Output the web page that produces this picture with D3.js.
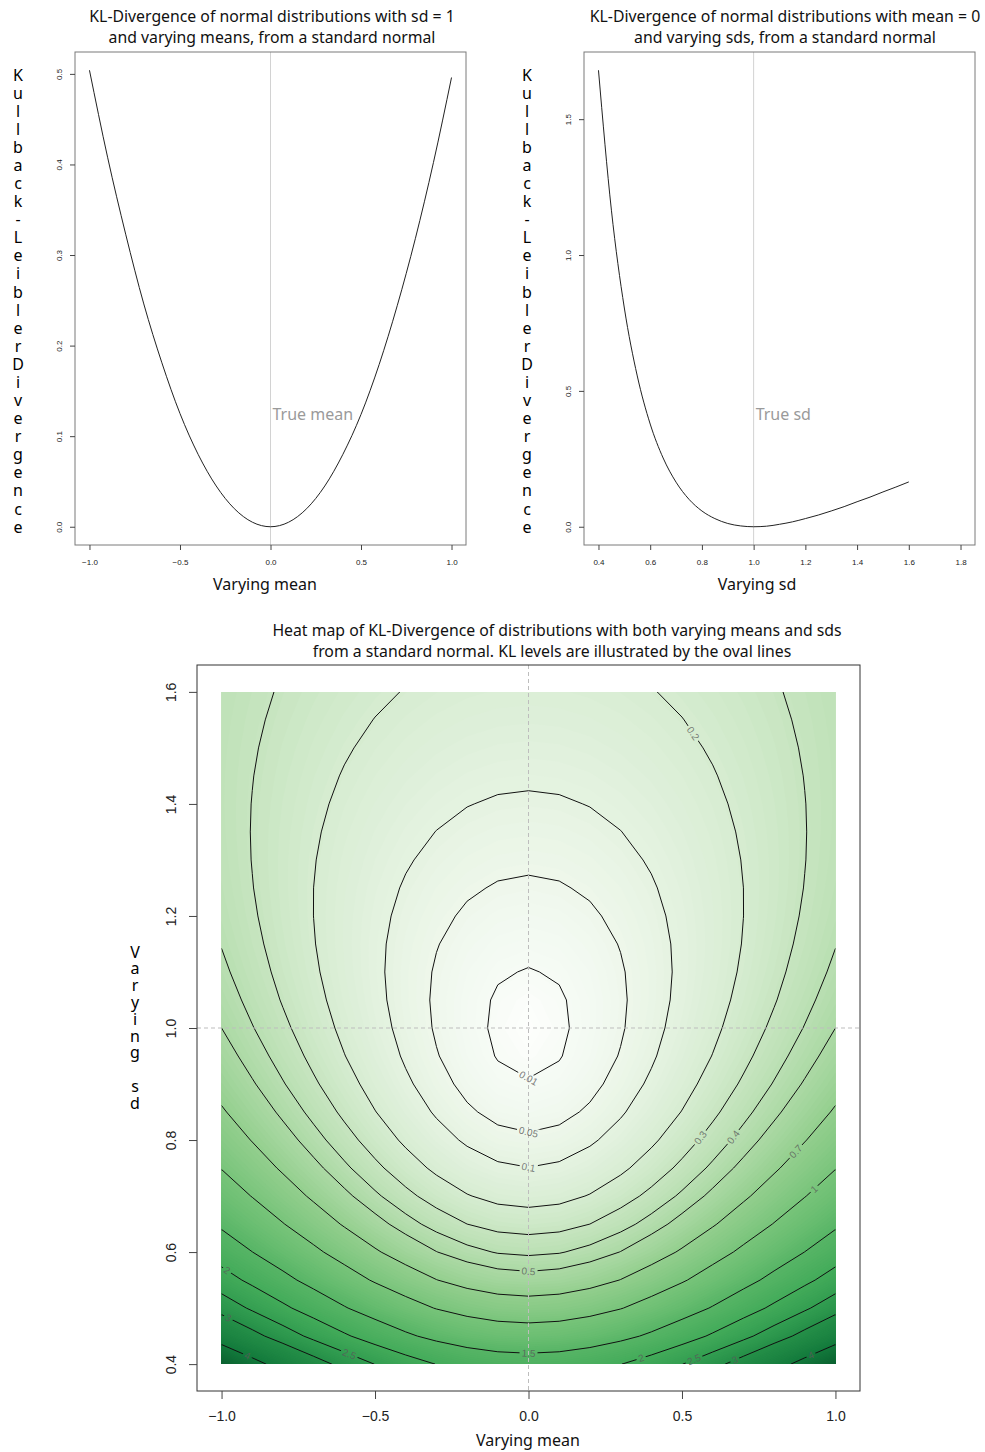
<!DOCTYPE html>
<html>
<head>
<meta charset="utf-8">
<script src="https://cdn.jsdelivr.net/npm/d3@7"></script>
<style>
  body { margin: 0; background: #fff; }
  svg text { font-family: "Noto Sans", "Open Sans", sans-serif; }
</style>
</head>
<body>
<svg id="chart" width="985" height="1452"></svg>
<script>
// ---- data ----
// grid of means (x) and sds (y)
const means = [-1.0, -0.9, -0.8, -0.7, -0.6, -0.5, -0.4, -0.3, -0.2, -0.1, 0.0,
               0.1, 0.2, 0.3, 0.4, 0.5, 0.6, 0.7, 0.8, 0.9, 1.0];
const sds = [0.40, 0.45, 0.50, 0.55, 0.60, 0.65, 0.70, 0.75, 0.80, 0.85, 0.90, 0.95, 1.00,
             1.05, 1.10, 1.15, 1.20, 1.25, 1.30, 1.35, 1.40, 1.45, 1.50, 1.55, 1.60];

// top left curve: KL for sd = 1, one value per mean
const klByMean = [0.504, 0.408, 0.323, 0.246, 0.181, 0.125, 0.080, 0.045, 0.020, 0.005, 0.000,
                  0.005, 0.020, 0.045, 0.080, 0.124, 0.179, 0.244, 0.318, 0.402, 0.496];

// top right curve: KL for mean = 0, one value per sd
const klBySd = [1.680, 1.165, 0.805, 0.555, 0.378, 0.253, 0.164, 0.101, 0.058, 0.030, 0.012, 0.003, 0.000,
                0.002, 0.009, 0.018, 0.030, 0.043, 0.058, 0.074, 0.092, 0.109, 0.128, 0.146, 0.165];

// heat map: one row per sd (0.40 at the bottom), one column per mean
const klGrid = [
  [4.834, 4.240, 3.709, 3.240, 2.834, 2.490, 2.209, 1.990, 1.834, 1.740, 1.709, 1.740, 1.834, 1.990, 2.209, 2.490, 2.834, 3.240, 3.709, 4.240, 4.834],
  [3.640, 3.171, 2.751, 2.381, 2.060, 1.788, 1.566, 1.393, 1.269, 1.195, 1.171, 1.195, 1.269, 1.393, 1.566, 1.788, 2.060, 2.381, 2.751, 3.171, 3.640],
  [2.807, 2.427, 2.087, 1.787, 1.527, 1.307, 1.127, 0.987, 0.887, 0.827, 0.807, 0.827, 0.887, 0.987, 1.127, 1.307, 1.527, 1.787, 2.087, 2.427, 2.807],
  [2.208, 1.894, 1.613, 1.365, 1.150, 0.968, 0.820, 0.704, 0.621, 0.572, 0.555, 0.572, 0.621, 0.704, 0.820, 0.968, 1.150, 1.365, 1.613, 1.894, 2.208],
  [1.767, 1.503, 1.267, 1.059, 0.878, 0.725, 0.600, 0.503, 0.434, 0.392, 0.378, 0.392, 0.434, 0.503, 0.600, 0.725, 0.878, 1.059, 1.267, 1.503, 1.767],
  [1.436, 1.211, 1.010, 0.833, 0.679, 0.549, 0.442, 0.359, 0.300, 0.264, 0.253, 0.264, 0.300, 0.359, 0.442, 0.549, 0.679, 0.833, 1.010, 1.211, 1.436],
  [1.184, 0.990, 0.817, 0.664, 0.531, 0.419, 0.327, 0.256, 0.205, 0.174, 0.164, 0.174, 0.205, 0.256, 0.327, 0.419, 0.531, 0.664, 0.817, 0.990, 1.184],
  [0.9901, 0.8212, 0.6701, 0.5368, 0.4212, 0.3234, 0.2434, 0.1812, 0.1368, 0.1101, 0.1012, 0.1101, 0.1368, 0.1812, 0.2434, 0.3234, 0.4212, 0.5368, 0.6701, 0.8212, 0.9901],
  [0.8394, 0.6909, 0.5581, 0.4409, 0.3393, 0.2534, 0.1831, 0.1284, 0.0894, 0.0659, 0.0581, 0.0659, 0.0894, 0.1284, 0.1831, 0.2534, 0.3393, 0.4409, 0.5581, 0.6909, 0.8394],
  [0.7215, 0.5901, 0.4724, 0.3686, 0.2786, 0.2025, 0.1402, 0.0918, 0.0572, 0.0364, 0.0295, 0.0364, 0.0572, 0.0918, 0.1402, 0.2025, 0.2786, 0.3686, 0.4724, 0.5901, 0.7215],
  [0.6292, 0.5119, 0.4070, 0.3144, 0.2341, 0.1662, 0.1107, 0.0675, 0.0366, 0.0181, 0.0119, 0.0181, 0.0366, 0.0675, 0.1107, 0.1662, 0.2341, 0.3144, 0.4070, 0.5119, 0.6292],
  [0.5567, 0.4515, 0.3573, 0.2742, 0.2022, 0.1412, 0.0913, 0.0526, 0.0249, 0.0083, 0.0027, 0.0083, 0.0249, 0.0526, 0.0913, 0.1412, 0.2022, 0.2742, 0.3573, 0.4515, 0.5567],
  [0.5000, 0.4050, 0.3200, 0.2450, 0.1800, 0.1250, 0.0800, 0.0450, 0.0200, 0.0050, 0.0000, 0.0050, 0.0200, 0.0450, 0.0800, 0.1250, 0.1800, 0.2450, 0.3200, 0.4050, 0.5000],
  [0.4558, 0.3697, 0.2926, 0.2245, 0.1656, 0.1157, 0.0749, 0.0431, 0.0204, 0.0068, 0.0023, 0.0068, 0.0204, 0.0431, 0.0749, 0.1157, 0.1656, 0.2245, 0.2926, 0.3697, 0.4558],
  [0.4218, 0.3432, 0.2730, 0.2110, 0.1573, 0.1118, 0.0747, 0.0457, 0.0251, 0.0127, 0.0085, 0.0127, 0.0251, 0.0457, 0.0747, 0.1118, 0.1573, 0.2110, 0.2730, 0.3432, 0.4218],
  [0.3959, 0.3241, 0.2598, 0.2031, 0.1539, 0.1124, 0.0783, 0.0519, 0.0330, 0.0216, 0.0178, 0.0216, 0.0330, 0.0519, 0.0783, 0.1124, 0.1539, 0.2031, 0.2598, 0.3241, 0.3959],
  [0.3768, 0.3108, 0.2518, 0.1997, 0.1545, 0.1164, 0.0851, 0.0608, 0.0434, 0.0330, 0.0295, 0.0330, 0.0434, 0.0608, 0.0851, 0.1164, 0.1545, 0.1997, 0.2518, 0.3108, 0.3768],
  [0.3631, 0.3023, 0.2479, 0.1999, 0.1583, 0.1231, 0.0943, 0.0719, 0.0559, 0.0463, 0.0431, 0.0463, 0.0559, 0.0719, 0.0943, 0.1231, 0.1583, 0.1999, 0.2479, 0.3023, 0.3631],
  [0.3541, 0.2979, 0.2476, 0.2032, 0.1647, 0.1322, 0.1056, 0.0849, 0.0701, 0.0612, 0.0582, 0.0612, 0.0701, 0.0849, 0.1056, 0.1322, 0.1647, 0.2032, 0.2476, 0.2979, 0.3541],
  [0.3488, 0.2967, 0.2500, 0.2089, 0.1732, 0.1430, 0.1184, 0.0991, 0.0854, 0.0772, 0.0745, 0.0772, 0.0854, 0.0991, 0.1184, 0.1430, 0.1732, 0.2089, 0.2500, 0.2967, 0.3488],
  [0.3467, 0.2982, 0.2548, 0.2166, 0.1834, 0.1554, 0.1324, 0.1145, 0.1018, 0.0941, 0.0916, 0.0941, 0.1018, 0.1145, 0.1324, 0.1554, 0.1834, 0.2166, 0.2548, 0.2982, 0.3467],
  [0.3472, 0.3020, 0.2616, 0.2259, 0.1950, 0.1688, 0.1474, 0.1308, 0.1189, 0.1118, 0.1094, 0.1118, 0.1189, 0.1308, 0.1474, 0.1688, 0.1950, 0.2259, 0.2616, 0.3020, 0.3472],
  [0.3499, 0.3077, 0.2699, 0.2366, 0.2077, 0.1832, 0.1632, 0.1477, 0.1366, 0.1299, 0.1277, 0.1299, 0.1366, 0.1477, 0.1632, 0.1832, 0.2077, 0.2366, 0.2699, 0.3077, 0.3499],
  [0.3545, 0.3150, 0.2796, 0.2484, 0.2213, 0.1984, 0.1797, 0.1651, 0.1547, 0.1485, 0.1464, 0.1485, 0.1547, 0.1651, 0.1797, 0.1984, 0.2213, 0.2484, 0.2796, 0.3150, 0.3545],
  [0.3606, 0.3235, 0.2903, 0.2610, 0.2356, 0.2142, 0.1966, 0.1829, 0.1731, 0.1673, 0.1653, 0.1673, 0.1731, 0.1829, 0.1966, 0.2142, 0.2356, 0.2610, 0.2903, 0.3235, 0.3606]
];

const contourLevels = [0.01, 0.05, 0.1, 0.2, 0.3, 0.4, 0.5, 0.7, 1, 1.5, 2, 2.5, 3, 4];

// tick values
const meanTicks = [-1.0, -0.5, 0.0, 0.5, 1.0];
const klTicksMean = [0.0, 0.1, 0.2, 0.3, 0.4, 0.5];
const sdTicksTop = [0.4, 0.6, 0.8, 1.0, 1.2, 1.4, 1.6, 1.8];
const klTicksSd = [0.0, 0.5, 1.0, 1.5];
const sdTicksHeat = [0.4, 0.6, 0.8, 1.0, 1.2, 1.4, 1.6];

// where the contour labels sit (mean, sd) - layout only
const labelSpots = [
  [0.01, 0.0, 0.91], [0.05, 0.0, 0.81], [0.1, 0.0, 0.75], [0.2, 0.52, 1.52],
  [0.3, 0.57, 0.80], [0.4, 0.68, 0.80], [0.7, 0.87, 0.78], [1, 0.935, 0.71],
  [0.5, 0.0, 0.56], [1.5, 0.0, 0.41],
  [2, -0.985, 0.565], [3, -0.98, 0.48], [4, -0.92, 0.41], [2.5, -0.59, 0.41],
  [2, 0.37, 0.405], [2.5, 0.54, 0.407], [3, 0.675, 0.404], [4, 0.925, 0.41]
];

// colour ramp of the heat map (style)
const heatColours = [
  [0, "#fdfefc"], [0.01, "#f6fbf5"], [0.05, "#eef7eb"], [0.1, "#e5f3e1"], [0.2, "#d6ecd1"],
  [0.3, "#c7e5c0"], [0.4, "#b9dfb2"], [0.5, "#acd9a5"], [0.7, "#93cf8e"], [1.0, "#78c47a"],
  [1.5, "#57b566"], [2.0, "#43ab5a"], [2.5, "#339e51"], [3.0, "#258f48"], [4.0, "#137a3c"],
  [4.9, "#0a5e2f"]
];

const svg = d3.select("#chart");


// R pads the axis range by 4% on each side
function padRange(lo, hi) {
    const d = (hi - lo) * 0.04;
    return [lo - d, hi + d];
}


// axis label written one letter per line (one text, a tspan per letter)
function stackedLabel(text, x, yTop, step) {
    svg.append("text")
        .attr("x", x)
        .attr("y", yTop + 5.6)
        .attr("text-anchor", "middle")
        .style("font-size", "16px")
        .selectAll("tspan")
        .data(text.split(""))
        .enter().append("tspan")
        .attr("x", x)
        .attr("dy", (d, i) => i === 0 ? 0 : step)
        .text(d => d === " " ? "\u00a0" : d);
}


function textLine(str, x, y, size, colour = "#111", anchor = "middle") {
    svg.append("text")
        .attr("x", x).attr("y", y)
        .attr("text-anchor", anchor)
        .style("font-size", size + "px")
        .attr("fill", colour)
        .text(str);
}


// bottom + left axes in R style (rotated y labels)
function drawAxes(g, x, y, box, o) {
    const fmt = d3.format(".1f");
    const xa = g.append("g")
        .attr("transform", `translate(0,${box.bottom})`)
        .call(d3.axisBottom(x).tickValues(o.xticks).tickFormat(fmt).tickSize(o.tick).tickSizeOuter(0).tickPadding(o.xpad));
    const ya = g.append("g")
        .attr("transform", `translate(${box.left},0)`)
        .call(d3.axisLeft(y).tickValues(o.yticks).tickFormat(fmt).tickSize(o.tick).tickSizeOuter(0));
    [xa, ya].forEach(a => {
        a.select(".domain").remove();
        a.attr("font-family", "'Liberation Sans', Arial, sans-serif").attr("font-size", o.font);
        a.selectAll(".tick line").attr("stroke", "#444");
        a.selectAll(".tick text").attr("fill", "#222").style("font-family", "'Liberation Sans', Arial, sans-serif");
    });
    ya.selectAll(".tick text")
        .attr("transform", "rotate(-90)")
        .attr("x", 0)
        .attr("y", -o.ypad)
        .attr("dy", 0)
        .attr("text-anchor", "middle");
}


// one of the two line panels on top
function drawCurvePanel(p) {
    const g = svg.append("g");
    const x = d3.scaleLinear().domain(padRange(p.xlim[0], p.xlim[1])).range([p.box.left, p.box.right]);
    const y = d3.scaleLinear().domain(padRange(0, d3.max(p.ys))).range([p.box.bottom, p.box.top]);

    g.append("line")
        .attr("x1", x(p.ref)).attr("x2", x(p.ref))
        .attr("y1", p.box.top).attr("y2", p.box.bottom)
        .attr("stroke", "#d2d2d2");

    g.append("path")
        .datum(d3.zip(p.xs, p.ys))
        .attr("d", d3.line().x(d => x(d[0])).y(d => y(d[1])).curve(d3.curveMonotoneX))
        .attr("fill", "none")
        .attr("stroke", "#222")
        .attr("stroke-width", 1);

    g.append("text")
        .attr("x", x(p.ref) + 2).attr("y", 420)
        .style("font-size", "16px")
        .attr("fill", "#9a9a9a")
        .text(p.note);

    g.append("rect")
        .attr("x", p.box.left).attr("y", p.box.top)
        .attr("width", p.box.right - p.box.left).attr("height", p.box.bottom - p.box.top)
        .attr("fill", "none").attr("stroke", "#7a7a7a");

    drawAxes(g, x, y, p.box, { xticks: p.xticks, yticks: p.yticks, tick: 5, xpad: 9, ypad: 13, font: 8 });

    textLine(p.title[0], p.titleX, 22, 15.8);
    textLine(p.title[1], p.titleX, 43, 15.8);
    textLine(p.xlab, p.xlabX, 590, 16);
    stackedLabel("Kullback-LeiblerDivergence", p.ylabX, 75, 18.08);
}


// nearest point of a contour (pixel space) to a spot, with the local direction
function nearestOnContour(contour, sx, sy, gx, gy, clip) {
    let best = null;
    contour.coordinates.forEach(poly => poly.forEach(ring => {
        for (let i = 1; i < ring.length; i++) {
            const ax = gx(ring[i - 1][0]), ay = gy(ring[i - 1][1]);
            const bx = gx(ring[i][0]), by = gy(ring[i][1]);
            const mx = (ax + bx) / 2, my = (ay + by) / 2;
            if (mx < clip.x0 + 0.5 || mx > clip.x1 - 0.5 || my < clip.y0 + 0.5 || my > clip.y1 - 0.5) continue;
            const dx = bx - ax, dy = by - ay;
            const len2 = dx * dx + dy * dy || 1;
            const t = Math.max(0, Math.min(1, ((sx - ax) * dx + (sy - ay) * dy) / len2));
            const px = ax + t * dx, py = ay + t * dy;
            const dist = (px - sx) ** 2 + (py - sy) ** 2;
            if (!best || dist < best.dist) {
                let angle = Math.atan2(dy, dx) * 180 / Math.PI;
                if (angle > 90) angle -= 180;
                if (angle < -90) angle += 180;
                best = { x: px, y: py, angle, dist };
            }
        }
    }));
    return best;
}


function drawHeatMap() {
    const box = { left: 197, right: 860, top: 665, bottom: 1391 };
    const nx = means.length, ny = sds.length;
    const values = klGrid.flat();

    const x = d3.scaleLinear().domain(padRange(means[0], means[nx - 1])).range([box.left, box.right]);
    const y = d3.scaleLinear().domain(padRange(sds[0], sds[ny - 1])).range([box.bottom, box.top]);

    // contour grid coordinates: value i sits at i + 0.5
    const gx = d3.scaleLinear().domain([0.5, nx - 0.5]).range([x(means[0]), x(means[nx - 1])]);
    const gy = d3.scaleLinear().domain([0.5, ny - 0.5]).range([y(sds[0]), y(sds[ny - 1])]);
    const path = d3.geoPath(d3.geoTransform({
        point(px, py) { this.stream.point(gx(px), gy(py)); }
    }));

    const clip = { x0: x(means[0]), x1: x(means[nx - 1]), y0: y(sds[ny - 1]), y1: y(sds[0]) };
    const defs = svg.append("defs");
    defs.append("clipPath").attr("id", "heatClip")
        .append("rect")
        .attr("x", clip.x0).attr("y", clip.y0)
        .attr("width", clip.x1 - clip.x0).attr("height", clip.y1 - clip.y0);

    const colour = d3.scaleLinear()
        .domain(heatColours.map(d => d[0]))
        .range(heatColours.map(d => d[1]))
        .clamp(true);

    // smooth fill: many thin bands
    const fillSteps = d3.range(0, 141).map(k => 4.9 * (k / 140) ** 2);
    const bands = d3.contours().size([nx, ny]).thresholds(fillSteps)(values);
    svg.append("g")
        .attr("clip-path", "url(#heatClip)")
        .selectAll("path")
        .data(bands)
        .enter().append("path")
        .attr("d", path)
        .attr("fill", (d, i) => colour(i < fillSteps.length - 1 ? (fillSteps[i] + fillSteps[i + 1]) / 2 : d.value));

    // iso lines, broken where labels sit
    const lines = d3.contours().size([nx, ny]).thresholds(contourLevels)(values);
    const mask = defs.append("mask").attr("id", "labelMask")
        .attr("maskUnits", "userSpaceOnUse")
        .attr("x", 0).attr("y", 0).attr("width", 985).attr("height", 1452);
    mask.append("rect").attr("width", 985).attr("height", 1452).attr("fill", "white");

    svg.append("g")
        .attr("clip-path", "url(#heatClip)")
        .append("g")
        .attr("mask", "url(#labelMask)")
        .selectAll("path")
        .data(lines)
        .enter().append("path")
        .attr("d", path)
        .attr("fill", "none")
        .attr("stroke", "#111")
        .attr("stroke-width", 1);

    // dashed guides at the true values
    const guides = svg.append("g").attr("stroke", "#bdbdbd").attr("stroke-dasharray", "4,3");
    guides.append("line").attr("x1", x(0)).attr("x2", x(0)).attr("y1", box.top).attr("y2", box.bottom);
    guides.append("line").attr("x1", box.left).attr("x2", box.right).attr("y1", y(1)).attr("y2", y(1));

    const labelG = svg.append("g");
    labelSpots.forEach(([level, m, s]) => {
        const c = lines.find(d => d.value === level);
        const spot = nearestOnContour(c, x(m), y(s), gx, gy, clip);
        if (!spot) return;
        const t = labelG.append("text")
            .attr("transform", `translate(${spot.x},${spot.y}) rotate(${spot.angle})`)
            .attr("text-anchor", "middle")
            .attr("dy", "0.35em")
            .style("font-family", "'Liberation Sans', Arial, sans-serif")
            .style("font-size", "10px")
            .attr("fill", "#5a5a5a")
            .attr("fill-opacity", 0.8)
            .text(String(level));
        const w = t.node().getComputedTextLength();
        mask.append("rect")
            .attr("x", -w / 2 - 2).attr("y", -5)
            .attr("width", w + 4).attr("height", 10)
            .attr("transform", `translate(${spot.x},${spot.y}) rotate(${spot.angle})`)
            .attr("fill", "black");
    });

    const g = svg.append("g");
    g.append("rect")
        .attr("x", box.left).attr("y", box.top)
        .attr("width", box.right - box.left).attr("height", box.bottom - box.top)
        .attr("fill", "none").attr("stroke", "#333");
    drawAxes(g, x, y, box, { xticks: meanTicks, yticks: sdTicksHeat, tick: 8, xpad: 12, ypad: 21, font: 14 });

    textLine("Heat map of KL-Divergence of distributions with both varying means and sds", 557, 636, 15.8);
    textLine("from a standard normal. KL levels are illustrated by the oval lines", 552, 657, 15.8);
    textLine("Varying mean", 528, 1446, 16);
    stackedLabel("Varying sd", 135, 952, 16.8);
}


drawCurvePanel({
    box: { left: 75, right: 466, top: 52, bottom: 545 },
    xs: means, ys: klByMean, xlim: [-1, 1], ref: 0,
    xticks: meanTicks, yticks: klTicksMean,
    note: "True mean",
    title: ["KL-Divergence of normal distributions with sd = 1", "and varying means, from a standard normal"],
    titleX: 272, xlab: "Varying mean", xlabX: 265, ylabX: 18
});

drawCurvePanel({
    box: { left: 584, right: 975, top: 52, bottom: 545 },
    xs: sds, ys: klBySd, xlim: [0.4, 1.8], ref: 1,
    xticks: sdTicksTop, yticks: klTicksSd,
    note: "True sd",
    title: ["KL-Divergence of normal distributions with mean = 0", "and varying sds, from a standard normal"],
    titleX: 785, xlab: "Varying sd", xlabX: 757, ylabX: 527
});

drawHeatMap();
</script>
</body>
</html>
